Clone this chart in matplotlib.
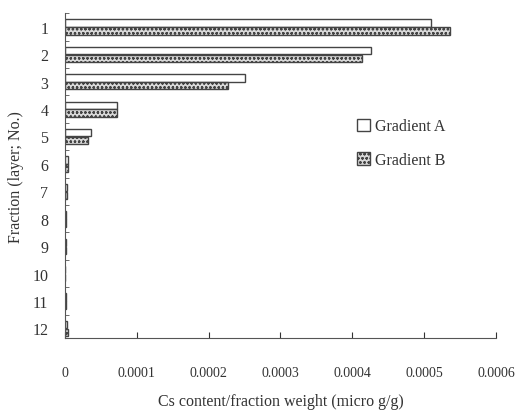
import numpy as np
from matplotlib import pyplot as plt

plt.rcParams["font.family"] = ["Liberation Serif", "DejaVu Serif"]
plt.rcParams["hatch.linewidth"] = 0.6

fractions = list(range(1, 13))
gradient_a = [0.000510, 0.000426, 0.000250, 0.0000725, 0.000036, 0.000004,
              0.000003, 0.000002, 0.000001, 0.0000003, 0.000001, 0.000003]
gradient_b = [0.000536, 0.000414, 0.000227, 0.0000725, 0.000032, 0.000004,
              0.000003, 0.000002, 0.000001, 0.0000003, 0.000001, 0.000004]
x_ticks = [0, 0.0001, 0.0002, 0.0003, 0.0004, 0.0005, 0.0006]
x_labels = ["0", "0.0001", "0.0002", "0.0003", "0.0004", "0.0005", "0.0006"]

fig = plt.figure(figsize=(5.18, 4.14), dpi=100)
ax = fig.add_axes([0.1255, 0.181, 0.832, 0.785])

y = np.array(fractions)
h = 0.27
ax.barh(y - 0.14, gradient_a, height=h, color="white", edgecolor="#444444",
        linewidth=1.0, label="Gradient A")
ax.barh(y + 0.15, gradient_b, height=h, color="#d8d8d8", edgecolor="#444444",
        linewidth=1.0, hatch="oooo", label="Gradient B")

ax.set_ylim(12.35, 0.7)
ax.set_xlim(0, 0.0006)
ax.set_yticks(fractions)
ax.set_yticks(np.arange(0.5, 12.5, 1), minor=True)
ax.tick_params(axis="y", which="major", length=0, labelsize=11.5, pad=12, colors="#333333")
ax.tick_params(axis="y", which="minor", direction="in", length=3, color="#555555")
ax.set_xticks(x_ticks)
ax.set_xticklabels(x_labels)
ax.tick_params(axis="x", direction="in", length=4, labelsize=10, pad=20, colors="#333333")

for side in ["top", "right"]:
    ax.spines[side].set_visible(False)
for side in ["left", "bottom"]:
    ax.spines[side].set_color("#555555")

ax.set_xlabel("Cs content/fraction weight (micro g/g)", fontsize=11.5, color="#333333", labelpad=10)
ax.set_ylabel("Fraction (layer; No.)", fontsize=11.5, color="#333333", labelpad=6)

ax.legend(loc="upper left", bbox_to_anchor=(0.645, 0.72), frameon=False, fontsize=11.5,
          handlelength=0.8, handleheight=0.8, handletextpad=0.3, labelspacing=1.1,
          labelcolor="#333333")

plt.savefig("out.png", dpi=100)
plt.close()
